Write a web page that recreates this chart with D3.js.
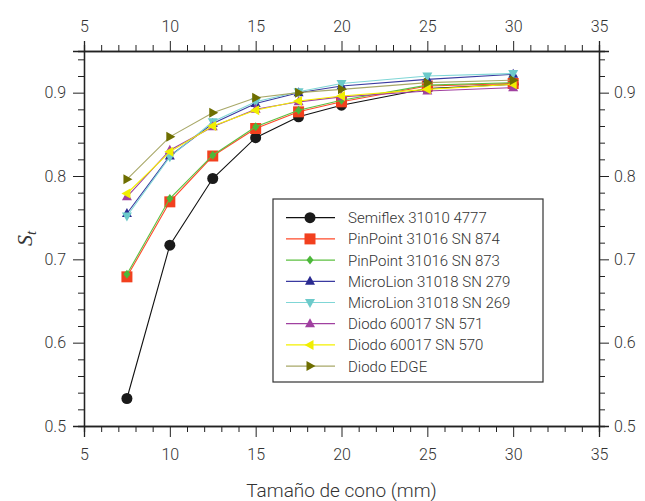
<!DOCTYPE html>
<html>
<head>
<meta charset="utf-8">
<script src="https://cdn.jsdelivr.net/npm/d3@7"></script>
<style>
  body { margin: 0; background: #fff; }
  text { font-family: Roboto, "Liberation Sans", sans-serif; font-weight: 300; fill: #333; }
</style>
</head>
<body>
<script>
// cone sizes (mm)
const sizes = [7.5, 10, 12.5, 15, 17.5, 20, 25, 30];

const names = [
    'Semiflex 31010 4777',
    'PinPoint 31016 SN 874',
    'PinPoint 31016 SN 873',
    'MicroLion 31018 SN 279',
    'MicroLion 31018 SN 269',
    'Diodo 60017 SN 571',
    'Diodo 60017 SN 570',
    'Diodo EDGE',
];

const semiflex   = [0.533, 0.717, 0.797, 0.846, 0.871, 0.885, 0.905, 0.910];
const pinpoint874 = [0.679, 0.769, 0.824, 0.857, 0.877, 0.889, 0.908, 0.911];
const pinpoint873 = [0.682, 0.773, 0.825, 0.859, 0.879, 0.891, 0.909, 0.912];
const microlion279 = [0.755, 0.824, 0.863, 0.887, 0.900, 0.908, 0.916, 0.922];
const microlion269 = [0.752, 0.823, 0.865, 0.889, 0.901, 0.911, 0.920, 0.923];
const diodo571   = [0.775, 0.831, 0.859, 0.880, 0.889, 0.895, 0.902, 0.906];
const diodo570   = [0.779, 0.829, 0.860, 0.879, 0.890, 0.896, 0.904, 0.910];
const edge       = [0.796, 0.847, 0.876, 0.894, 0.900, 0.904, 0.912, 0.915];

const values = [semiflex, pinpoint874, pinpoint873, microlion279, microlion269, diodo571, diodo570, edge];

const lineColors = ['#111', '#ff4a2a', '#5cc040', '#3a3aa0', '#7fd6d6', '#a040a0', '#f4f000', '#a8a868'];
const markColors = ['#1a1a1a', '#f2401e', '#4cb83a', '#2a2a90', '#6ccaca', '#a040a0', '#f0ee00', '#6e6e00'];
const symbols = ['circle', 'square', 'diamond', 'triUp', 'triDown', 'triUp', 'triLeft', 'triRight'];

const margin = {top: 51, right: 46, bottom: 75, left: 84};
const W = 645, H = 501;

const x = d3.scaleLinear().domain([5, 35]).range([margin.left, W - margin.right]);
const y = d3.scaleLinear().domain([0.5, 0.95]).range([H - margin.bottom, margin.top]);

const svg = d3.select('body').append('svg')
    .attr('width', W)
    .attr('height', H);

const xMajor = d3.range(5, 36, 5);
const xMinor = d3.range(5, 36, 1).filter(d => d % 5 !== 0);
const yMajor = [0.5, 0.6, 0.7, 0.8, 0.9];
const yMinor = d3.range(0.52, 0.951, 0.02).filter(d => Math.abs(d * 10 - Math.round(d * 10)) > 0.01);

function axis(gen, tr, size) {
    const g = svg.append('g').attr('transform', tr).call(gen);
    g.selectAll('line').attr('stroke', '#222');
    g.selectAll('path').attr('stroke', '#222').attr('stroke-width', 1.3);
    g.selectAll('text').style('font-size', size + 'px').attr('fill', '#333');
    return g;
}

const bottomY = H - margin.bottom, topY = margin.top;
const leftX = margin.left, rightX = W - margin.right;

// minor ticks
axis(d3.axisBottom(x).tickValues(xMinor).tickSize(6).tickFormat(''), `translate(0,${bottomY})`, 14);
axis(d3.axisTop(x).tickValues(xMinor).tickSize(6).tickFormat(''), `translate(0,${topY})`, 14);
axis(d3.axisLeft(y).tickValues(yMinor).tickSize(6).tickFormat(''), `translate(${leftX},0)`, 14);
axis(d3.axisRight(y).tickValues(yMinor).tickSize(6).tickFormat(''), `translate(${rightX},0)`, 14);

// major ticks
axis(d3.axisBottom(x).tickValues(xMajor).tickSize(11).tickPadding(12).tickFormat(d3.format('d')), `translate(0,${bottomY})`, 16);
axis(d3.axisTop(x).tickValues(xMajor).tickSize(10).tickPadding(9).tickFormat(d3.format('d')), `translate(0,${topY})`, 16);
axis(d3.axisLeft(y).tickValues(yMajor).tickSize(11).tickPadding(7).tickFormat(d3.format('.1f')), `translate(${leftX},0)`, 16);
axis(d3.axisRight(y).tickValues(yMajor).tickSize(10).tickPadding(5).tickFormat(d3.format('.1f')), `translate(${rightX},0)`, 16);

// axis titles
svg.append('text')
    .attr('x', (leftX + rightX) / 2)
    .attr('y', 497)
    .attr('text-anchor', 'middle')
    .style('font-size', '19px')
    .text('Tamaño de cono (mm)');

const yt = svg.append('text')
    .attr('transform', `translate(32,${(topY + bottomY) / 2}) rotate(-90)`)
    .attr('text-anchor', 'middle')
    .style('font-family', '"Liberation Serif", "DejaVu Serif", serif')
    .style('font-style', 'italic')
    .style('font-weight', 400)
    .style('font-size', '22px');
yt.append('tspan').text('S');
yt.append('tspan').attr('dy', 4).style('font-size', '15px').text('t');

function drawMarker(g, type, color, cx, cy) {
    if (type === 'circle') {
        g.append('circle').attr('cx', cx).attr('cy', cy).attr('r', 5.5).attr('fill', color);
        return;
    }
    let pts;
    if (type === 'square') pts = [[-5.5, -5.5], [5.5, -5.5], [5.5, 5.5], [-5.5, 5.5]];
    if (type === 'diamond') pts = [[0, -4.5], [3.5, 0], [0, 4.5], [-3.5, 0]];
    if (type === 'triUp') pts = [[0, -5.5], [5, 3.5], [-5, 3.5]];
    if (type === 'triDown') pts = [[0, 5.5], [5, -3.5], [-5, -3.5]];
    if (type === 'triLeft') pts = [[-5.5, 0], [3.5, -5], [3.5, 5]];
    if (type === 'triRight') pts = [[5.5, 0], [-3.5, -5], [-3.5, 5]];
    g.append('polygon')
        .attr('points', pts.map(p => [cx + p[0], cy + p[1]].join(',')).join(' '))
        .attr('fill', color);
}

const line = d3.line().x(d => x(d[0])).y(d => y(d[1]));

values.forEach((vals, i) => {
    const pts = sizes.map((s, j) => [s, vals[j]]);
    const g = svg.append('g');
    g.append('path')
        .attr('d', line(pts))
        .attr('fill', 'none')
        .attr('stroke', lineColors[i])
        .attr('stroke-width', 1.1);
    pts.forEach(p => drawMarker(g, symbols[i], markColors[i], x(p[0]), y(p[1])));
});

// legend
const lg = svg.append('g');
lg.append('rect')
    .attr('x', 273).attr('y', 199)
    .attr('width', 270).attr('height', 183)
    .attr('fill', '#fff')
    .attr('stroke', '#333')
    .attr('stroke-width', 1.2);

names.forEach((n, i) => {
    const ry = 217.7 + i * 21.2;
    lg.append('line')
        .attr('x1', 286).attr('x2', 335)
        .attr('y1', ry).attr('y2', ry)
        .attr('stroke', lineColors[i])
        .attr('stroke-width', 1.2);
    drawMarker(lg, symbols[i], markColors[i], 310, ry);
    lg.append('text')
        .attr('x', 348)
        .attr('y', ry + 5.5)
        .style('font-size', '15px')
        .text(n);
});
</script>
</body>
</html>
